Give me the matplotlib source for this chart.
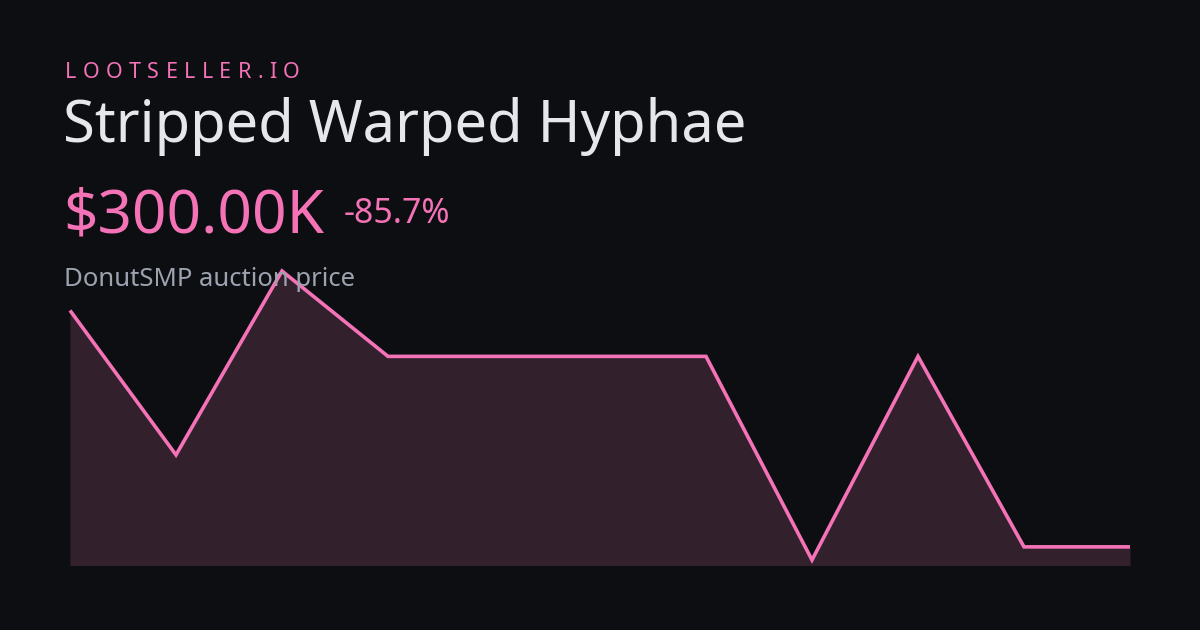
import matplotlib
matplotlib.use("Agg")
import matplotlib.pyplot as plt

brand = "LOOTSELLER.IO"
title = "Stripped Warped Hyphae"
price_label = "$300.00K"
change_label = "-85.7%"
subtitle = "DonutSMP auction price"
prices_k = [2100, 1000, 2400, 1750, 1750, 1750, 1750, 200, 1750, 300, 300]

BG = "#0d0e12"
PINK = "#f472b6"
FILL = "#33202d"
W, H = 1200, 630
DPI = 100

plt.rcParams['font.family'] = ['Noto Sans', 'DejaVu Sans']
fig = plt.figure(figsize=(W / DPI, H / DPI), dpi=DPI, facecolor=BG)

def fx(px):
    return px / W

def fy(py):
    return 1 - py / H

# chart area
top_px, bot_px = 271, 565.5
vmax, vmin = max(prices_k), min(prices_k)
scale = (560 - top_px) / (vmax - vmin)
ybot = vmin - (bot_px - 560) / scale
ax = fig.add_axes([fx(70), fy(bot_px), fx(1130) - fx(70), (bot_px - top_px) / H])
ax.set_facecolor("none")
x = list(range(len(prices_k)))
ax.fill_between(x, prices_k, ybot, color=FILL, linewidth=0, zorder=1)
ax.plot(x, prices_k, color=PINK, linewidth=2.6, solid_joinstyle="miter",
        solid_capstyle="butt", clip_on=False, zorder=3)
ax.set_xlim(0, len(prices_k) - 1)
ax.set_ylim(ybot, vmax)
ax.axis("off")

# texts
fig.canvas.draw()
renderer = fig.canvas.get_renderer()

def spaced_text(s, x0, y0, size, color, tracking):
    xpos = x0
    for ch in s:
        t = fig.text(fx(xpos), fy(y0), ch, fontsize=size, color=color,
                     va="baseline", ha="left", zorder=0)
        w = t.get_window_extent(renderer=renderer).width
        xpos += w + tracking

spaced_text(brand, 65, 77.5, 15.5, PINK, 6.4)
fig.text(fx(63), fy(142), title, fontsize=41.7, color="#e5e7eb", va="baseline", ha="left", zorder=0)
fig.text(fx(63), fy(232), price_label, fontsize=43.4, color=PINK, va="baseline", ha="left", zorder=0)
fig.text(fx(344), fy(223), change_label, fontsize=24.4, color=PINK, va="baseline", ha="left", zorder=0)
fig.text(fx(64), fy(286), subtitle, fontsize=18.5, color="#9ca3af", va="baseline", ha="left", zorder=0)

fig.savefig("out.png", dpi=DPI, facecolor=BG)
